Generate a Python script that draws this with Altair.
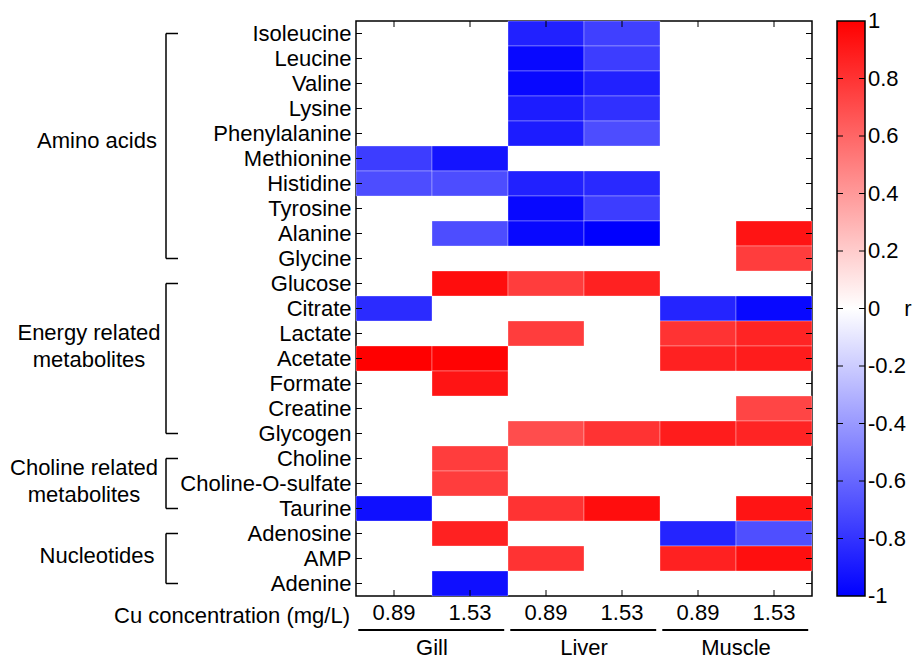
import altair as alt
import pandas as pd

rows = ["Isoleucine", "Leucine", "Valine", "Lysine", "Phenylalanine", "Methionine",
        "Histidine", "Tyrosine", "Alanine", "Glycine", "Glucose", "Citrate", "Lactate",
        "Acetate", "Formate", "Creatine", "Glycogen", "Choline", "Choline-O-sulfate",
        "Taurine", "Adenosine", "AMP", "Adenine"]
tissues = ["Gill", "Liver", "Muscle"]
concs = ["0.89", "1.53"]
cols = [f"{t}|{c}" for t in tissues for c in concs]

N = None
gill_089 = [N, N, N, N, N, -0.76, -0.70, N, N, N, N, -0.83, N, 1.00, N, N, N, N, N, -0.94, N, N, N]
gill_153 = [N, N, N, N, N, -0.92, -0.70, N, -0.70, N, 0.95, N, N, 0.99, 0.92, N, N, 0.76, 0.76, N, 0.87, N, -0.94]
liver_089 = [-0.87, -0.97, -0.97, -0.89, -0.89, N, -0.87, -0.97, -0.97, N, 0.76, N, 0.76, N, N, N, 0.70, N, N, 0.80, N, 0.80, N]
liver_153 = [-0.75, -0.76, -0.87, -0.81, -0.70, N, -0.84, -0.76, -1.00, N, 0.87, N, N, N, N, N, 0.80, N, N, 0.95, N, N, N]
muscle_089 = [N, N, N, N, N, N, N, N, N, N, N, -0.86, 0.80, 0.87, N, N, 0.89, N, N, N, -0.86, 0.87, N]
muscle_153 = [N, N, N, N, N, N, N, N, 0.92, 0.76, N, -0.97, 0.86, 0.89, N, 0.73, 0.86, N, N, 0.92, -0.69, 0.94, N]
series = [gill_089, gill_153, liver_089, liver_153, muscle_089, muscle_153]

groups = [
    ("Amino acids", "Isoleucine", "Glycine", "Phenylalanine", 0.8, -259),
    ("Energy related\nmetabolites", "Glucose", "Glycogen", "Lactate", 0.46, -267),
    ("Choline related\nmetabolites", "Choline", "Taurine", "Choline", 0.86, -272),
    ("Nucleotides", "Adenosine", "Adenine", "AMP", 0.4, -259),
]
cbar_values = [-1, -0.8, -0.6, -0.4, -0.2, 0, 0.2, 0.4, 0.6, 0.8, 1]
cbar_ticks = [-0.8, -0.6, -0.4, -0.2, 0, 0.2, 0.4, 0.6, 0.8]

FONT = "Liberation Sans"
FS = 22
W = 456
H = 575
CB_X1, CB_X2 = 481, 509

recs = []
for c, vals in zip(cols, series):
    for r, v in zip(rows, vals):
        if v is not None:
            recs.append({"row": r, "col": c, "r": v})
heat_df = pd.DataFrame(recs)
rows_df = pd.DataFrame({"row": rows})
cols_df = pd.DataFrame({"col": cols})

xs = alt.Scale(domain=cols, paddingInner=0, paddingOuter=0)
ys = alt.Scale(domain=rows, paddingInner=0, paddingOuter=0)
cscale = alt.Scale(domain=[-1, 0, 1], range=["#0000ff", "#ffffff", "#ff0000"], interpolate="rgb")

heat = alt.Chart(heat_df).mark_rect(stroke="white", strokeWidth=0.6, strokeOpacity=0.5).encode(
    x=alt.X("col:N", scale=xs, sort=cols,
            axis=alt.Axis(title=None, ticks=False, domain=False, labelAngle=0,
                          labelExpr="split(datum.label, '|')[1]", labelFontSize=FS,
                          labelFont=FONT, labelColor="black", labelPadding=6)),
    y=alt.Y("row:N", scale=ys, sort=rows,
            axis=alt.Axis(title=None, ticks=False, domain=False, labelFontSize=FS,
                          labelFont=FONT, labelColor="black", labelPadding=5)),
    color=alt.Color("r:Q", scale=cscale, legend=None),
)

tick_l = alt.Chart(rows_df).mark_rule(color="black", strokeWidth=1).encode(
    x=alt.value(0), x2=alt.value(6), y=alt.Y("row:N", scale=ys, sort=rows))
tick_r = alt.Chart(rows_df).mark_rule(color="black", strokeWidth=1).encode(
    x=alt.value(W), x2=alt.value(W - 6), y=alt.Y("row:N", scale=ys, sort=rows))
tick_t = alt.Chart(cols_df).mark_rule(color="black", strokeWidth=1).encode(
    x=alt.X("col:N", scale=xs, sort=cols), y=alt.value(0), y2=alt.value(6))
tick_b = alt.Chart(cols_df).mark_rule(color="black", strokeWidth=1).encode(
    x=alt.X("col:N", scale=xs, sort=cols), y=alt.value(H), y2=alt.value(H - 6))

grp_df = pd.DataFrame([{"label": g[0], "first": g[1], "last": g[2]} for g in groups])
bracket_v = alt.Chart(grp_df).mark_rule(color="black", strokeWidth=1.5).encode(
    x=alt.value(-190), y=alt.Y("first:N", scale=ys, sort=rows), y2="last:N")
caps_df = pd.DataFrame({"row": [g[1] for g in groups] + [g[2] for g in groups]})
bracket_c = alt.Chart(caps_df).mark_rule(color="black", strokeWidth=1.5).encode(
    x=alt.value(-190), x2=alt.value(-178), y=alt.Y("row:N", scale=ys, sort=rows))

labels = []
for g in groups:
    d = pd.DataFrame({"label": [g[0]], "row": [g[3]]})
    labels.append(
        alt.Chart(d).mark_text(font=FONT, fontSize=FS, align="center", baseline="middle",
                               lineBreak="\n", lineHeight=27, color="black").encode(
            x=alt.value(g[5]),
            y=alt.Y("row:N", scale=ys, sort=rows, bandPosition=g[4]),
            text="label:N"))

xtitle = alt.Chart(pd.DataFrame({"t": ["Cu concentration (mg/L)"]})).mark_text(
    font=FONT, fontSize=FS, align="right", baseline="middle", color="black").encode(
    x=alt.value(-6), y=alt.value(H + 20), text="t:N")

tis_df = pd.DataFrame({"tissue": tissues,
                       "c1": [f"{t}|0.89" for t in tissues],
                       "c2": [f"{t}|1.53" for t in tissues]})
underline = alt.Chart(tis_df).mark_rule(color="black", strokeWidth=2).encode(
    x=alt.X("c1:N", scale=xs, sort=cols, bandPosition=0.03),
    x2=alt.X2("c2:N", bandPosition=0.95),
    y=alt.value(H + 34))
tis_text = alt.Chart(tis_df).mark_text(font=FONT, fontSize=FS, align="center",
                                       baseline="middle", color="black").encode(
    x=alt.X("c2:N", scale=xs, sort=cols, bandPosition=0),
    y=alt.value(H + 52), text="tissue:N")

main = alt.layer(heat, tick_l, tick_r, tick_t, tick_b, bracket_v, bracket_c,
                 *labels, xtitle, underline, tis_text)

# colour bar, drawn on its own quantitative y scale
vscale = alt.Scale(domain=[-1, 1], range=[H, 0])
grad = alt.LinearGradient(
    gradient="linear", x1=0, x2=0, y1=1, y2=0,
    stops=[alt.GradientStop(offset=0, color="#0000ff"),
           alt.GradientStop(offset=0.5, color="#ffffff"),
           alt.GradientStop(offset=1, color="#ff0000")])
cb_bar = alt.Chart(pd.DataFrame({"lo": [-1], "hi": [1]})).mark_rect(
    fill=grad, stroke="black", strokeWidth=1.5).encode(
    x=alt.value(CB_X1), x2=alt.value(CB_X2),
    y=alt.Y("lo:Q", scale=vscale, axis=None), y2="hi:Q")
tk_df = pd.DataFrame({"v": cbar_ticks})
cb_l = alt.Chart(tk_df).mark_rule(color="black", strokeWidth=1).encode(
    x=alt.value(CB_X1), x2=alt.value(CB_X1 + 6), y=alt.Y("v:Q", scale=vscale, axis=None))
cb_r = alt.Chart(tk_df).mark_rule(color="black", strokeWidth=1).encode(
    x=alt.value(CB_X2), x2=alt.value(CB_X2 - 6), y=alt.Y("v:Q", scale=vscale, axis=None))
lab_df = pd.DataFrame({"v": cbar_values, "t": [f"{v:g}" for v in cbar_values]})
cb_lab = alt.Chart(lab_df).mark_text(font=FONT, fontSize=FS, align="left", baseline="middle",
                                     color="black").encode(
    x=alt.value(CB_X2 + 3), y=alt.Y("v:Q", scale=vscale, axis=None), text="t:N")
cb_title = alt.Chart(pd.DataFrame({"v": [0], "t": ["r"]})).mark_text(
    font=FONT, fontSize=FS, align="center", baseline="middle", color="black").encode(
    x=alt.value(552), y=alt.Y("v:Q", scale=vscale, axis=None), text="t:N")
cbar = alt.layer(cb_bar, cb_l, cb_r, cb_lab, cb_title)

chart = alt.layer(main, cbar).resolve_scale(y="independent").properties(
    width=W, height=H, background="white",
    padding={"left": 2, "top": 2, "right": 0, "bottom": 0}
).configure_view(stroke="black", strokeWidth=1.5)

chart.save("out.html", embed_options={"renderer": "svg", "actions": False})
